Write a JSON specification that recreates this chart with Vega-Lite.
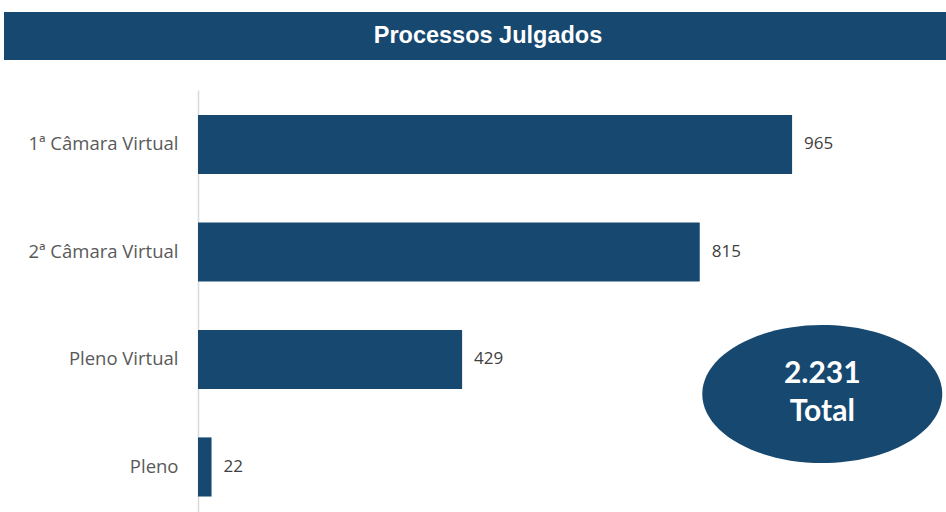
{
  "$schema": "https://vega.github.io/schema/vega-lite/v6.json",
  "padding": {"left": 4, "top": 12, "right": 0, "bottom": 0},
  "spacing": 30,
  "config": {
    "view": {"stroke": null},
    "locale": {"number": {"decimal": ",", "thousands": ".", "grouping": [3], "currency": ["R$", ""]}}
  },
  "datasets": {
    "processos": [
      {"orgao": "1ª Câmara Virtual", "n": 965},
      {"orgao": "2ª Câmara Virtual", "n": 815},
      {"orgao": "Pleno Virtual", "n": 429},
      {"orgao": "Pleno", "n": 22}
    ]
  },
  "vconcat": [
    {
      "width": 748,
      "height": 48,
      "view": {"fill": "#17486F", "stroke": null},
      "data": {"values": [{"t": "Processos Julgados"}]},
      "mark": {"type": "text", "font": "Liberation Sans", "fontWeight": "bold", "fontSize": 23.5, "color": "#FFFFFF", "baseline": "middle", "align": "center", "dx": -84},
      "encoding": {
        "text": {"field": "t"},
        "y": {"field": "t", "type": "nominal", "axis": {"title": null, "labels": false, "ticks": false, "grid": false, "domainColor": "#17486F", "domainWidth": 194, "domainCap": "butt", "offset": 97, "translate": 0, "minExtent": 0, "maxExtent": 0}}
      }
    },
    {
      "width": 748,
      "height": 422,
      "data": {"name": "processos"},
      "encoding": {
        "y": {
          "field": "orgao", "type": "nominal", "sort": null,
          "scale": {"paddingInner": 0.45, "paddingOuter": 0.188, "align": 0.617},
          "axis": {"title": null, "ticks": false, "labelPadding": 20, "labelFontSize": 18.5, "labelFont": "Open Sans", "labelColor": "#595959", "domainColor": "#D9D9D9", "domainWidth": 1.5, "minExtent": 194, "maxExtent": 194, "grid": false}
        }
      },
      "layer": [
        {
          "mark": {"type": "bar", "color": "#17486F"},
          "encoding": {
            "x": {"field": "n", "type": "quantitative", "scale": {"domain": [0, 1215], "nice": false, "zero": true}, "axis": null}
          }
        },
        {
          "mark": {"type": "text", "align": "left", "baseline": "middle", "dx": 12, "fontSize": 17, "font": "Open Sans", "color": "#404040"},
          "encoding": {
            "x": {"field": "n", "type": "quantitative"},
            "text": {"field": "n", "type": "quantitative", "format": "d"}
          }
        },
        {
          "transform": [{"aggregate": [{"op": "sum", "field": "n", "as": "total"}]}],
          "layer": [
            {
              "mark": {"type": "point", "filled": true, "opacity": 1, "color": "#17486F", "size": 57600, "shape": "M -1 0.2875 A 1 0.575 0 1 1 1 0.2875 A 1 0.575 0 1 1 -1 0.2875 Z"},
              "encoding": {
                "x": {"datum": 1014, "type": "quantitative"},
                "y": {"datum": "Pleno Virtual", "type": "nominal"}
              }
            },
            {
              "mark": {"type": "text", "font": "Lato", "fontWeight": "bold", "fontSize": 30, "color": "#FFFFFF", "align": "center", "baseline": "middle", "dy": 15},
              "encoding": {
                "x": {"datum": 1014, "type": "quantitative"},
                "y": {"datum": "Pleno Virtual", "type": "nominal"},
                "text": {"field": "total", "type": "quantitative", "format": ",d"}
              }
            },
            {
              "mark": {"type": "text", "font": "Lato", "fontWeight": "bold", "fontSize": 30, "color": "#FFFFFF", "align": "center", "baseline": "middle", "dy": 53},
              "encoding": {
                "x": {"datum": 1014, "type": "quantitative"},
                "y": {"datum": "Pleno Virtual", "type": "nominal"},
                "text": {"datum": "Total"}
              }
            }
          ]
        }
      ]
    }
  ]
}
